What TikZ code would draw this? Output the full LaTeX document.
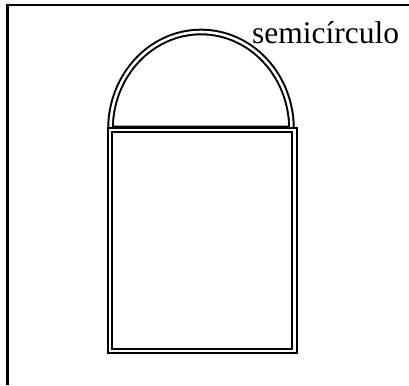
\documentclass[tikz,border=0pt]{standalone}
\usepackage{fontspec}
\setmainfont{Liberation Serif}
\usepackage{tikz}

\begin{document}
\begin{tikzpicture}[x=1pt, y=-1pt,
    frame/.style={draw, line width=2.2pt},
    wall/.style={draw, double, line width=2pt, double distance=2.6pt},
    tag/.style={font=\fontsize{31.5}{36}\selectfont, inner sep=0pt}]
  \useasboundingbox (0,0) rectangle (409,385);
  % outer border
  \draw[frame] (7.5,385) |- (409,5);
  % semicircle on top of the box
  \draw[wall] (110.5,129) arc[start angle=180, end angle=360,
                              x radius=90.5, y radius=97] -- cycle;
  % box
  \draw[wall] (109.8,130) rectangle (294.5,351);
  \node[tag, anchor=base west] (lbl) at (252,44) {semicírculo};
\end{tikzpicture}
\end{document}
